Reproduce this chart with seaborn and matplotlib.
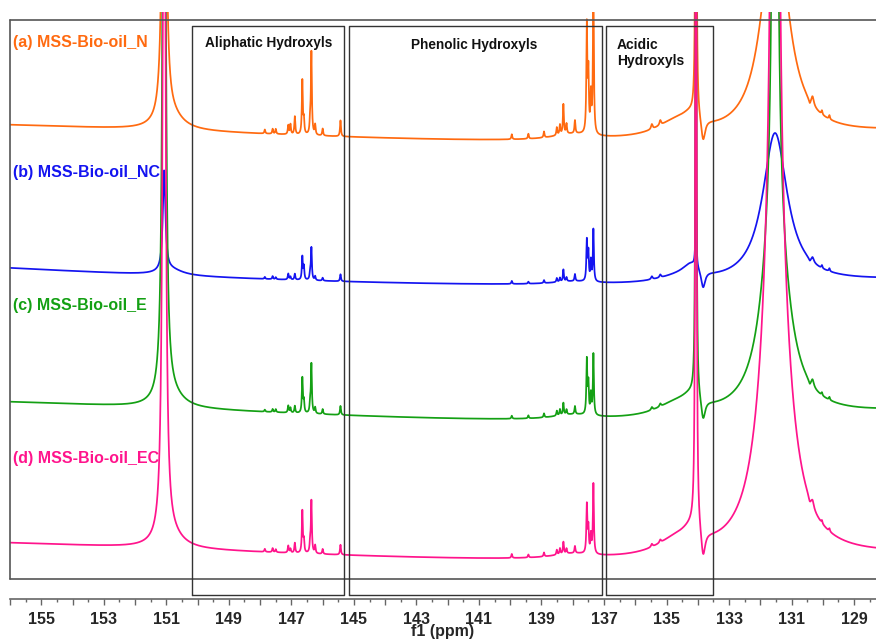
import numpy as np
import pandas as pd
import matplotlib
matplotlib.use("Agg")
import matplotlib.pyplot as plt
from matplotlib.ticker import FixedLocator, FuncFormatter
import seaborn as sns

# ---- data -------------------------------------------------------------
samples = ["(a) MSS-Bio-oil_N", "(b) MSS-Bio-oil_NC",
           "(c) MSS-Bio-oil_E", "(d) MSS-Bio-oil_EC"]
colors = ["#FF6A10", "#1414F0", "#14A014", "#FF148C"]

# stacked baseline level of each trace at a few shifts (ppm)
baseline_ppm = [156.0, 145.0, 137.0, 128.3]
baseline_N = [474, 461.5, 457, 466]
baseline_NC = [331, 317, 313.5, 318.5]
baseline_E = [197, 183, 177.5, 186]
baseline_EC = [56, 43, 37.5, 43]

# 31P signals: chemical shift (ppm) and half width at half height (ppm)
signal_ppm = [151.07, 150.85, 134.06, 134.20, 134.70, 133.83, 131.53, 131.53,
              138.00, 130.33, 130.42, 130.03, 129.79, 135.47, 135.20,
              147.85, 147.60, 147.50, 147.10, 147.03, 146.89, 146.65,
              146.60, 146.40, 146.36, 146.24, 146.00, 145.43,
              139.95, 139.42, 138.92, 138.51, 138.41, 138.30, 138.20,
              137.93, 137.55, 137.50, 137.42, 137.34]
signal_hwhm = [0.05, 0.45, 0.015, 0.35, 0.80, 0.08, 0.48, 0.06,
               0.80, 0.05, 0.04, 0.02, 0.02, 0.03, 0.03,
               0.018, 0.018, 0.018, 0.018, 0.018, 0.018, 0.018,
               0.018, 0.018, 0.018, 0.018, 0.018, 0.018,
               0.018, 0.018, 0.018, 0.018, 0.018, 0.018, 0.018,
               0.018, 0.018, 0.018, 0.018, 0.018]
# signal heights for each sample
height_N = [700, 14, 800, 12, 15, -24, 230, 0,
            6, 9, -5, 4, 4, 5, 5,
            4, 5, 5, 9, 10, 18, 54, 14, 13, 82, 10, 7, 16,
            5, 5, 6, 8, 10, 30, 10, 13, 107, 58, 37, 150]
height_NC = [100, 6, 92, 14, 5, -18, 150, 0,
             3, 5, -3, 3, 3, 3, 3,
             2, 3, 2, 6, 3, 6, 23, 13, 8, 32, 4, 3, 7,
             3, 2, 3, 4, 4, 12, 4, 7, 40, 28, 20, 52]
height_E = [900, 12, 900, 12, 13, -22, 200, 1200,
            5, 7, -4, 3, 3, 3, 3,
            2, 3, 3, 7, 5, 7, 35, 12, 10, 49, 6, 5, 9,
            3, 3, 4, 5, 6, 12, 5, 8, 54, 30, 20, 61]
height_EC = [900, 12, 1500, 14, 15, -28, 330, 2500,
             5, 7, -4, 3, 3, 3, 3,
             3, 4, 3, 7, 4, 10, 42, 12, 10, 52, 8, 5, 10,
             4, 3, 4, 5, 6, 12, 5, 7, 48, 25, 18, 70]

baselines = [baseline_N, baseline_NC, baseline_E, baseline_EC]
heights = [height_N, height_NC, height_E, height_EC]

# integration regions: upper and lower ppm bounds, and their names
region_hi = [150.17, 145.17, 136.95]
region_lo = [145.32, 137.06, 133.50]
region_names = ["Aliphatic Hydroxyls", "Phenolic Hydroxyls", "Acidic\nHydroxyls"]

odd_ticks = list(range(129, 157, 2))

# ---- spectra ----------------------------------------------------------
ppm = np.linspace(156.0, 128.3, 24000)
frames = []
for name, base, hts in zip(samples, baselines, heights):
    coef = np.polyfit(baseline_ppm, base, 3)
    y = np.polyval(coef, ppm)
    for c, w, h in zip(signal_ppm, signal_hwhm, hts):
        y = y + h * w ** 2 / ((ppm - c) ** 2 + w ** 2)
    frames.append(pd.DataFrame({"ppm": ppm, "intensity": y, "sample": name}))
spectra = pd.concat(frames, ignore_index=True)

# ---- figure -----------------------------------------------------------
sns.set_theme(style="white")
plt.rcParams["font.family"] = ["Liberation Sans", "DejaVu Sans"]

W, H = 876, 642
fig = plt.figure(figsize=(W / 100, H / 100), dpi=100)
ax = fig.add_axes([10 / W, 43 / H, 866 / W, 587 / H])

sns.lineplot(data=spectra, x="ppm", y="intensity", hue="sample",
             palette=colors, hue_order=samples, sort=False,
             estimator=None, errorbar=None, linewidth=1.25,
             legend=False, ax=ax)

ax.set_xlim(156.0, 128.3)
ax.set_ylim(0, 587)

# outer frame of the stacked plot
frame_kw = dict(color="#555555", lw=1.2, clip_on=False)
ax.plot([156.0, 156.0], [20, 579], **frame_kw)
ax.plot([156.0, 128.3], [579, 579], **frame_kw)
ax.plot([156.0, 128.3], [20, 20], **frame_kw)

# integration region boxes
for hi, lo in zip(region_hi, region_lo):
    ax.plot([hi, hi, lo, lo, hi], [4, 573, 573, 4, 4],
            color="#333333", lw=1.0, clip_on=False)

fig.text(269 / W, 1 - 43 / H, region_names[0], ha="center", va="center",
         fontsize=9.8, fontweight="bold", color="#111111")
fig.text(474.5 / W, 1 - 45 / H, region_names[1], ha="center", va="center",
         fontsize=9.8, fontweight="bold", color="#111111")
fig.text(617 / W, 1 - 53 / H, region_names[2], ha="left", va="center",
         fontsize=10, fontweight="bold", color="#111111", linespacing=1.15)

label_y = [43, 173, 306, 458]
for name, col, ly in zip(samples, colors, label_y):
    fig.text(13 / W, 1 - ly / H, name, ha="left", va="center",
             fontsize=11.5, fontweight="bold", color=col)

# axis styling
for s in ["top", "right", "left"]:
    ax.spines[s].set_visible(False)
ax.spines["bottom"].set_color("#666666")
ax.spines["bottom"].set_linewidth(1.2)
ax.set_yticks([])
ax.xaxis.set_major_locator(FixedLocator(list(range(129, 157))))
ax.xaxis.set_minor_locator(FixedLocator(list(np.arange(128.5, 156.0, 1.0))))
ax.xaxis.set_major_formatter(FuncFormatter(
    lambda v, p: f"{int(round(v))}" if int(round(v)) in odd_ticks else ""))
ax.tick_params(axis="x", which="major", direction="out", length=4.5,
               width=1.0, color="#666666", pad=4.5, labelsize=11.5)
ax.tick_params(axis="x", which="minor", direction="out", length=2.5,
               width=1.0, color="#666666")
ax.tick_params(axis="x", which="both", bottom=True)
for lab in ax.get_xticklabels():
    lab.set_fontweight("bold")
ax.set_xlabel("f1 (ppm)", fontsize=11.5, fontweight="bold", labelpad=-1.5)
ax.set_ylabel("")

fig.savefig("out.png", dpi=100)
